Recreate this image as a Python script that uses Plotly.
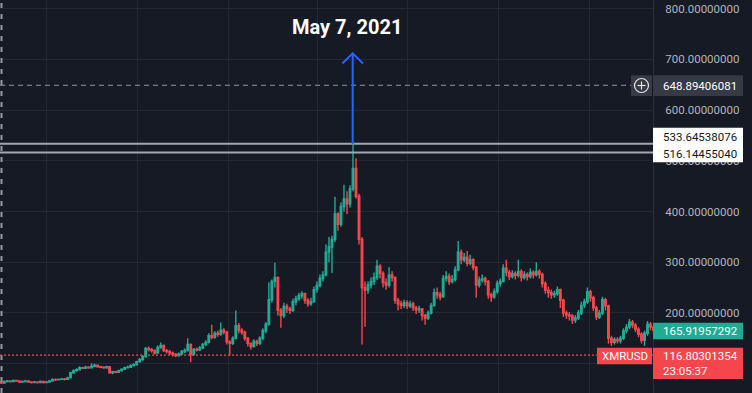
import pandas as pd
import plotly.graph_objects as go

# ---------------- data (3-day candles) ----------------
first_open = 63
closes = [64,62,65,66,65,67,66,64,65,66,64,63,64,63,65,63,64,66,69,68,69,70,69,72,
          82,86,88,92,91,93,92,95,97,94,93,92,94,82,84,83,86,89,92,93,96,98,104,108,
          114,130,128,126,121,132,136,126,124,121,118,116,119,124,126,138,118,128,127,131,138,142,155,152,
          160,158,166,162,143,140,150,175,166,162,150,140,134,144,140,150,165,178,226,262,270,205,195,213,
          208,205,222,228,234,238,225,218,222,246,254,268,275,320,330,345,395,375,410,425,415,445,485,430,
          345,250,245,255,262,270,292,278,260,255,275,270,225,218,215,220,214,218,210,206,208,195,190,200,
          215,240,236,232,268,272,262,266,285,320,305,310,298,305,290,255,265,268,262,236,232,242,258,262,
          288,280,272,278,274,282,270,276,272,280,275,282,276,258,245,240,236,238,246,225,200,196,194,186,
          190,200,215,222,242,230,210,192,200,226,214,150,142,148,145,150,165,172,182,176,168,158,146,160,
          178,172,166]
highs = [66,65,67,68,67,69,68,67,67,68,67,65,66,65,67,66,66,68,71,71,71,72,72,74,
         84,89,91,95,94,96,95,101,100,98,96,95,96,95,86,86,88,91,94,96,99,101,106,111,
         117,133,134,131,128,136,142,138,129,127,124,121,122,127,130,150,140,131,132,135,141,146,160,177,
         164,165,181,170,165,146,154,205,180,170,165,152,142,148,147,154,170,182,260,266,299,272,210,220,
         218,212,228,234,240,243,240,229,230,252,262,276,282,335,350,352,429,398,418,453,440,452,531,505,
         435,350,262,262,270,280,305,296,282,268,290,282,272,230,224,226,225,224,222,214,214,210,198,205,
         220,248,250,242,275,282,278,275,292,342,325,318,322,315,308,292,272,276,272,265,240,248,264,268,
         296,305,285,284,282,305,286,282,280,288,284,300,286,280,262,252,246,244,252,248,228,205,202,198,
         196,206,222,228,250,246,234,214,206,232,230,216,155,152,152,155,170,178,188,186,180,172,162,165,
         184,182,176]
lows = [61,60,61,64,63,64,64,62,63,64,62,61,62,61,62,61,62,63,65,66,67,68,67,68,
        71,80,84,87,89,90,90,91,93,92,91,90,90,80,79,81,82,85,88,91,92,95,97,102,
        106,112,124,122,118,120,130,123,120,117,114,113,114,117,121,124,103,116,124,125,129,135,140,148,
        149,153,155,158,138,116,137,148,160,157,145,134,128,132,135,137,146,160,175,220,250,195,171,190,
        200,198,202,215,224,228,218,212,214,220,240,250,262,272,300,279,340,362,370,400,395,408,440,425,
        335,138,173,238,248,255,265,268,250,246,250,262,218,205,208,210,208,210,204,198,200,185,177,186,
        197,212,228,225,230,262,255,258,262,282,296,300,292,294,284,230,250,260,254,228,222,228,238,252,
        260,272,265,268,266,270,262,266,264,268,268,272,268,250,238,230,228,230,234,210,192,188,185,178,
        180,186,196,210,218,222,204,186,188,196,205,140,135,138,140,140,146,160,168,170,162,152,140,135,
        155,166,160]
opens = [first_open] + closes[:-1]

peak_date = pd.Timestamp("2021-05-07")
peak_index = 118
dates = pd.date_range(peak_date - pd.Timedelta(hours=73 * peak_index), periods=len(closes), freq="73h")

ytick_vals = [100, 200, 300, 400, 500, 600, 700, 800]
ytick_text = ["", "200.00000000", "300.00000000", "400.00000000", "500.00000000",
              "600.00000000", "700.00000000", "800.00000000"]
grid_dates = ["2020-07-01", "2020-10-01", "2021-01-01", "2021-04-01",
              "2021-07-01", "2021-10-01", "2022-01-01"]

line_high = 533.64538076
line_low = 516.14455040
line_alert = 648.89406081
last_price = 116.80301354
bid_price = 165.91957292
symbol = "XMRUSD"
countdown = "23:05:37"
event_label = "May 7, 2021"

# ---------------- styling ----------------
W, H = 752, 393
PW = 653  # plot width in px
BG = "#161a25"
GRID = "#242834"
UP = "#22ab94"
DOWN = "#f5474b"
AXIS_TXT = "#b2b5be"
FONT = "Roboto"


def X(px):
    return px / PW


def Y(py):
    return 1 - py / H


fig = go.Figure()
fig.add_trace(go.Candlestick(
    x=dates, open=opens, high=highs, low=lows, close=closes,
    increasing=dict(line=dict(color=UP, width=1.4), fillcolor=UP),
    decreasing=dict(line=dict(color=DOWN, width=1.4), fillcolor=DOWN),
    whiskerwidth=0, hoverinfo="skip", showlegend=False,
))

x0 = peak_date - pd.Timedelta(days=353 / 0.988)
x1 = peak_date + pd.Timedelta(days=300 / 0.988)

shapes = []
# left dashed vertical marker
shapes.append(dict(type="line", xref="paper", yref="paper", x0=X(1.5), x1=X(1.5), y0=0, y1=1,
                   line=dict(color="#9598a1", width=2, dash="5px,6px"), layer="above"))
# alert dashed line
shapes.append(dict(type="line", xref="paper", yref="y", x0=0, x1=X(631), y0=line_alert, y1=line_alert,
                   line=dict(color="#9598a1", width=1, dash="5px,4px"), layer="above"))
# two solid horizontal lines
for v in (line_high, line_low):
    shapes.append(dict(type="line", xref="paper", yref="y", x0=0, x1=1, y0=v, y1=v,
                       line=dict(color="#a3a6af", width=2), layer="above"))
# last price dotted line
shapes.append(dict(type="line", xref="paper", yref="y", x0=0, x1=1, y0=last_price, y1=last_price,
                   line=dict(color=DOWN, width=1.2, dash="2px,2px"), layer="above"))
# blue arrow
shapes.append(dict(type="line", xref="paper", yref="paper", x0=X(352.7), x1=X(352.7), y0=Y(144), y1=Y(54),
                   line=dict(color="#2962ff", width=2), layer="above"))
shapes.append(dict(type="path", xref="paper", yref="paper",
                   path=f"M {X(342.3)},{Y(63.5)} L {X(352.7)},{Y(53.3)} L {X(363)},{Y(63.5)}",
                   line=dict(color="#2962ff", width=2), layer="above"))
# label boxes on the price scale
shapes.append(dict(type="rect", xref="paper", yref="paper", x0=X(653), x1=X(743), y0=Y(96), y1=Y(75.3),
                   fillcolor="#363a45", line=dict(width=0), layer="above"))
shapes.append(dict(type="rect", xref="paper", yref="paper", x0=X(631), x1=X(652), y0=Y(96), y1=Y(75.3),
                   fillcolor="#363a45", line=dict(width=0), layer="above"))
shapes.append(dict(type="circle", xref="paper", yref="paper", x0=X(634.5), x1=X(648.5), y0=Y(92.5), y1=Y(78.5),
                   line=dict(color="#e6e6e6", width=1.2), layer="above"))
shapes.append(dict(type="line", xref="paper", yref="paper", x0=X(637.5), x1=X(645.5), y0=Y(85.5), y1=Y(85.5),
                   line=dict(color="#e6e6e6", width=1.2), layer="above"))
shapes.append(dict(type="line", xref="paper", yref="paper", x0=X(641.5), x1=X(641.5), y0=Y(81.5), y1=Y(89.5),
                   line=dict(color="#e6e6e6", width=1.2), layer="above"))
shapes.append(dict(type="rect", xref="paper", yref="paper", x0=X(653), x1=X(743), y0=Y(162.3), y1=Y(127.7),
                   fillcolor="#ffffff", line=dict(width=0), layer="above"))
shapes.append(dict(type="rect", xref="paper", yref="paper", x0=X(653), x1=X(743), y0=Y(339.3), y1=Y(322.7),
                   fillcolor=UP, line=dict(width=0), layer="above"))
shapes.append(dict(type="rect", xref="paper", yref="paper", x0=X(653), x1=X(743), y0=Y(379), y1=Y(347.7),
                   fillcolor=DOWN, line=dict(width=0), layer="above"))
shapes.append(dict(type="rect", xref="paper", yref="paper", x0=X(597), x1=X(652), y0=Y(364.3), y1=Y(347.7),
                   fillcolor=DOWN, line=dict(width=0), layer="above"))

ann = []


def label(text, px, py, color, size=11.5, anchor="left", bold=False):
    t = f"<b>{text}</b>" if bold else text
    ann.append(dict(text=t, xref="paper", yref="paper", x=X(px), y=Y(py), xanchor=anchor, yanchor="middle",
                    showarrow=False, borderpad=0, font=dict(family=FONT, size=size, color=color)))


label(f"{line_alert:.8f}", 661.5, 85.7, "#ffffff")
label(f"{line_high:.8f}", 661.5, 136.5, "#131722")
label(f"{line_low:.8f}", 661.5, 153.7, "#131722")
label(f"{bid_price:.8f}", 661.5, 331, "#ffffff")
label(f"{last_price:.8f}", 661.5, 356, "#ffffff")
label(countdown, 661.5, 371, "#ffffff")
label(symbol, 624.5, 356, "#ffffff", anchor="center")
label(event_label, 346.5, 26.7, "#ffffff", size=20, anchor="center", bold=True)

fig.update_layout(
    width=W, height=H, margin=dict(l=0, r=W - PW, t=0, b=0),
    paper_bgcolor=BG, plot_bgcolor=BG, showlegend=False,
    shapes=shapes, annotations=ann, hovermode=False,
    xaxis=dict(type="date", range=[x0, x1], tickvals=grid_dates, showticklabels=False,
               showgrid=True, gridcolor=GRID, gridwidth=1, zeroline=False, showline=False,
               rangeslider=dict(visible=False), fixedrange=True),
    yaxis=dict(side="right", range=[42.2, 817], tickvals=ytick_vals, ticktext=ytick_text,
               showgrid=True, gridcolor=GRID, gridwidth=1, zeroline=False,
               showline=True, linecolor="#2a2e39", linewidth=1,
               ticks="outside", ticklen=0, ticklabelstandoff=9,
               tickfont=dict(family=FONT, size=11.5, color=AXIS_TXT), fixedrange=True),
)

fig.write_html("out.html", config={"displayModeBar": False},
               post_script="document.body.style.margin='0';document.body.style.background='#161a25';")
